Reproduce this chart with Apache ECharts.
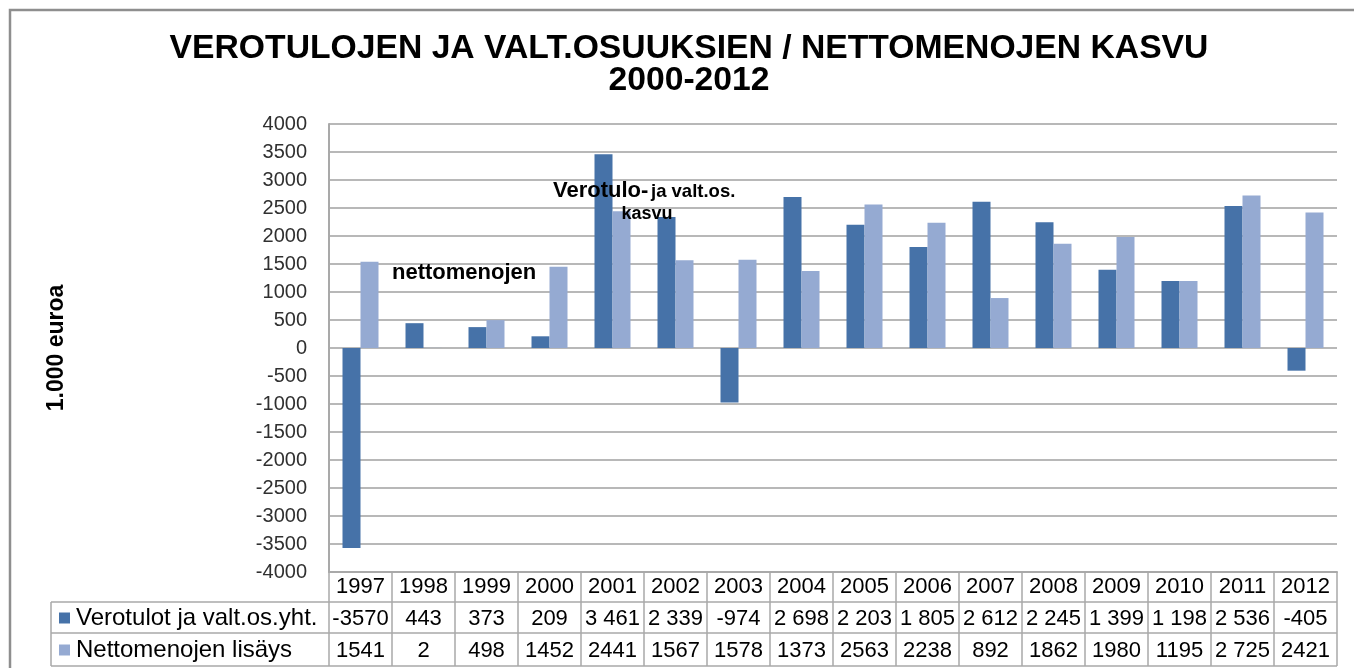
<!DOCTYPE html>
<html><head><meta charset="utf-8">
<script src="https://cdn.jsdelivr.net/npm/echarts@6/dist/echarts.min.js"></script>
<style>html,body{margin:0;padding:0;background:#fff}#c{width:1354px;height:668px}</style>
</head><body><div id="c"></div>
<script>
// ---- data ----
const years = ['1997','1998','1999','2000','2001','2002','2003','2004','2005','2006','2007','2008','2009','2010','2011','2012'];
const verotulot = [-3570, 443, 373, 209, 3461, 2339, -974, 2698, 2203, 1805, 2612, 2245, 1399, 1198, 2536, -405];
const nettomenot = [1541, 2, 498, 1452, 2441, 1567, 1578, 1373, 2563, 2238, 892, 1862, 1980, 1195, 2725, 2421];
const verotulotLabels = ['-3570','443','373','209','3 461','2 339','-974','2 698','2 203','1 805','2 612','2 245','1 399','1 198','2 536','-405'];
const nettomenotLabels = ['1541','2','498','1452','2441','1567','1578','1373','2563','2238','892','1862','1980','1195','2 725','2421'];
const seriesNames = ['Verotulot ja valt.os.yht.', 'Nettomenojen lisäys'];
const yMin = -4000, yMax = 4000, yStep = 500;
const titleText = 'VEROTULOJEN JA VALT.OSUUKSIEN / NETTOMENOJEN KASVU\n2000-2012';
const yName = '1.000 euroa';

const colors = ['#4672A8', '#95AAD2'];
const FONT = 'Liberation Sans, Arial, sans-serif';
const lineCol = '#A9A9A9';

const chart = echarts.init(document.getElementById('c'), null, {renderer: 'canvas'});
const GRID = {left: 329, top: 124, width: 1008, height: 448};

chart.setOption({
  animation: false,
  backgroundColor: '#fff',
  title: {
    text: titleText, left: 684, top: 27, textAlign: 'center',
    textStyle: {fontFamily: FONT, fontWeight: 'bold', fontSize: 33.7, lineHeight: 32.5, color: '#000'}
  },
  grid: Object.assign({containLabel: false}, GRID),
  xAxis: {
    type: 'category', data: years, position: 'bottom',
    axisLine: {onZero: false, lineStyle: {color: lineCol, width: 2}},
    axisTick: {show: false},
    axisLabel: {fontFamily: FONT, fontSize: 22, lineHeight: 22, margin: 4, color: '#000', interval: 0}
  },
  yAxis: {
    type: 'value', min: yMin, max: yMax, interval: yStep,
    axisLine: {show: true, lineStyle: {color: lineCol, width: 2}},
    axisTick: {show: false},
    splitLine: {lineStyle: {color: '#B8B8B8', width: 2}},
    axisLabel: {fontFamily: FONT, fontSize: 20, margin: 22, color: '#303030', formatter: v => String(v)}
  },
  series: [
    {name: seriesNames[0], type: 'bar', data: verotulot, barWidth: 18, barGap: '0%', itemStyle: {color: colors[0]}},
    {name: seriesNames[1], type: 'bar', data: nettomenot, barWidth: 18, barGap: '0%', itemStyle: {color: colors[1]}}
  ]
});

// ---- data table & annotations ----
const centers = years.map(y => chart.convertToPixel({xAxisIndex: 0}, y));
const band = centers[1] - centers[0];
const xL = centers[0] - band / 2;
const xR = centers[centers.length - 1] + band / 2;
const yTop = chart.convertToPixel({yAxisIndex: 0}, yMin);
const rowY = [yTop, yTop + 30, yTop + 61, yTop + 94];
const tableLeft = 51;

const g = [];
// outer frame
g.push({type: 'rect', shape: {x: 10, y: 10, width: 1400, height: 700}, style: {fill: null, stroke: '#8E8E8E', lineWidth: 2.5}, z: 100});
// horizontal lines
[rowY[1], rowY[2], rowY[3]].forEach(y => g.push({type: 'line', shape: {x1: tableLeft, y1: y, x2: xR, y2: y}, style: {stroke: lineCol, lineWidth: 1.5}, z: 50}));
// vertical lines
g.push({type: 'line', shape: {x1: tableLeft, y1: rowY[1], x2: tableLeft, y2: rowY[3]}, style: {stroke: lineCol, lineWidth: 1.5}, z: 50});
for (let i = 0; i <= years.length; i++) {
  const x = xL + i * band;
  g.push({type: 'line', shape: {x1: x, y1: rowY[0], x2: x, y2: rowY[3]}, style: {stroke: lineCol, lineWidth: 1.5}, z: 50});
}
// values
[verotulotLabels, nettomenotLabels].forEach((labels, r) => {
  const cy = (rowY[r + 1] + rowY[r + 2]) / 2 + 1;
  labels.forEach((t, i) => g.push({type: 'text', x: centers[i], y: cy,
    style: {text: t, fontFamily: FONT, fontSize: 22, fill: '#000', align: 'center', verticalAlign: 'middle'}, z: 60}));
  g.push({type: 'rect', shape: {x: 59, y: cy - 6, width: 11, height: 11}, style: {fill: colors[r]}, z: 60});
  g.push({type: 'text', x: 76, y: cy, style: {text: seriesNames[r], fontFamily: FONT, fontSize: 24, fill: '#000', align: 'left', verticalAlign: 'middle'}, z: 60});
});
// y-axis name
g.push({type: 'text', x: 57, y: 348, rotation: Math.PI / 2,
  style: {text: yName, fontFamily: FONT, fontWeight: 'bold', fontSize: 23, fill: '#000', align: 'center', verticalAlign: 'middle'}, z: 60});
// annotations
g.push({type: 'text', x: 392, y: 273, style: {text: 'nettomenojen', fontFamily: FONT, fontWeight: 'bold', fontSize: 22, fill: '#000', align: 'left', verticalAlign: 'middle'}, z: 60});
g.push({type: 'text', x: 553, y: 191, style: {text: 'Verotulo-', fontFamily: FONT, fontWeight: 'bold', fontSize: 22, fill: '#000', align: 'left', verticalAlign: 'middle'}, z: 60});
g.push({type: 'text', x: 651, y: 192, style: {text: 'ja valt.os.', fontFamily: FONT, fontWeight: 'bold', fontSize: 18.5, fill: '#000', align: 'left', verticalAlign: 'middle'}, z: 60});
g.push({type: 'text', x: 647, y: 214, style: {text: 'kasvu', fontFamily: FONT, fontWeight: 'bold', fontSize: 18, fill: '#000', align: 'center', verticalAlign: 'middle'}, z: 60});

chart.setOption({graphic: g});
</script>
</body></html>
